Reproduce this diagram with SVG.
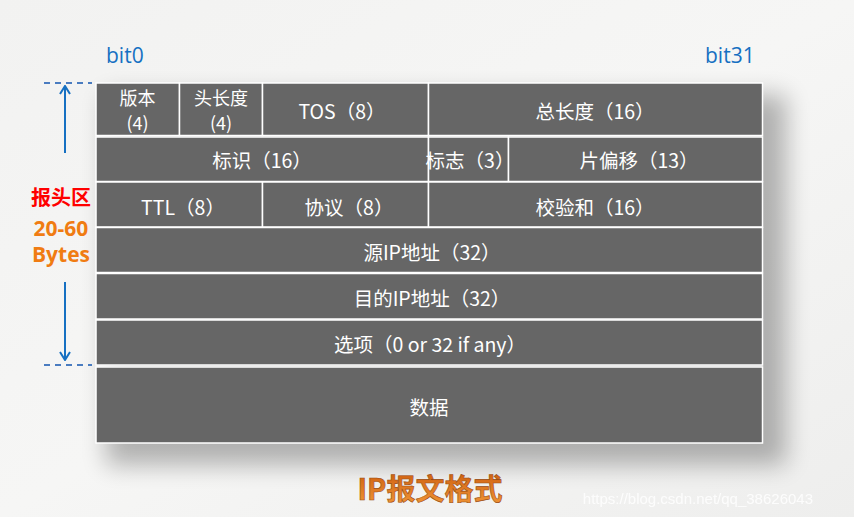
<svg xmlns="http://www.w3.org/2000/svg" width="854" height="517" viewBox="0 0 854 517">
<defs>
<style>
.cell{fill:#666666;stroke:#ffffff;stroke-width:1.5}
.t{font-family:"Noto Sans CJK SC","Microsoft YaHei",sans-serif;font-size:19.5px;fill:#ffffff;text-anchor:middle;dominant-baseline:central}
.s{font-size:18px}
.blue{font-family:"Open Sans","Noto Sans",sans-serif;font-size:21px;fill:#1670c2}
.dash{stroke:#4a7cc0;stroke-width:2;stroke-dasharray:6,5;fill:none}
.arr{stroke:#1670c2;stroke-width:2;fill:none}
.org{font-family:"Open Sans","Noto Sans",sans-serif;font-size:21px;font-weight:bold;fill:#f07c12;text-anchor:middle;dominant-baseline:central}
</style>
<linearGradient id="bg" x1="0" y1="0" x2="1" y2="1">
<stop offset="0" stop-color="#f2f2f1"/>
<stop offset="0.5" stop-color="#f6f6f5"/>
<stop offset="1" stop-color="#eeeeed"/>
</linearGradient>
<linearGradient id="title" x1="0" y1="0" x2="0" y2="1">
<stop offset="0" stop-color="#c8560a"/>
<stop offset="1" stop-color="#f39a3a"/>
</linearGradient>
<filter id="sh" x="-20%" y="-20%" width="140%" height="140%">
<feGaussianBlur stdDeviation="12"/>
</filter>
<marker id="chev" viewBox="0 0 10 12" refX="9" refY="6" markerWidth="10" markerHeight="12" markerUnits="userSpaceOnUse" orient="auto">
<path d="M1,1 L9,6 L1,11" stroke="#1670c2" stroke-width="2" fill="none"/>
</marker>
</defs>
<rect width="854" height="517" fill="url(#bg)"/>
<rect x="106" y="95" width="680" height="370" fill="#000" opacity="0.28" filter="url(#sh)"/>

<g id="labels">
<text class="blue" x="106" y="63">bit0</text>
<text class="blue" x="705" y="63">bit31</text>
<text x="61" y="205" font-family="'Noto Sans CJK SC',sans-serif" font-size="20" font-weight="bold" fill="#ff0000" text-anchor="middle">报头区</text>
<text class="org" x="61" y="228">20-60</text>
<text class="org" x="61" y="254">Bytes</text>
<text x="430" y="500" font-family="'Noto Sans CJK SC',sans-serif" font-size="29" font-weight="bold" fill="url(#title)" stroke="#9a4a10" stroke-width="0.6" text-anchor="middle">IP报文格式</text>
<text x="813" y="504" font-family="'Liberation Sans',Arial,sans-serif" font-size="15" fill="#ffffff" opacity="0.85" text-anchor="end">https://blog.csdn.net/qq_38626043</text>
</g>

<g id="connectors">
<line class="dash" x1="44" y1="83" x2="92" y2="83"/>
<line class="dash" x1="44" y1="365" x2="92" y2="365"/>
<line class="arr" x1="65" y1="153" x2="65" y2="86" marker-end="url(#chev)"/>
<line class="arr" x1="65" y1="282" x2="65" y2="360" marker-end="url(#chev)"/>
</g>

<g id="row1">
<g id="ver"><rect class="cell" x="96" y="83" width="83.5" height="52.5"/><text class="t s" x="137.5" y="97">版本</text><text class="t s" x="137.5" y="122">(4)</text></g>
<g id="ihl"><rect class="cell" x="179.5" y="83" width="83" height="52.5"/><text class="t s" x="221" y="97">头长度</text><text class="t s" x="221" y="122">(4)</text></g>
<g id="tos"><rect class="cell" x="262.5" y="83" width="166" height="52.5"/><text class="t" x="342" y="110">TOS（8）</text></g>
<g id="totlen"><rect class="cell" x="428.5" y="83" width="334" height="52.5"/><text class="t" x="595" y="110">总长度（16）</text></g>
</g>
<g id="row2">
<g id="ident"><rect class="cell" x="96" y="137" width="332.5" height="44.5"/><text class="t" x="262" y="159">标识（16）</text></g>
<g id="flags"><rect class="cell" x="428.5" y="137" width="80" height="44.5"/><text class="t" x="470" y="159" font-size="17">标志（3）</text></g>
<g id="frag"><rect class="cell" x="508.5" y="137" width="254" height="44.5"/><text class="t" x="639" y="159">片偏移（13）</text></g>
</g>
<g id="row3">
<g id="ttl"><rect class="cell" x="96" y="182" width="166.5" height="45"/><text class="t" x="183" y="206">TTL（8）</text></g>
<g id="proto"><rect class="cell" x="262.5" y="182" width="166" height="45"/><text class="t" x="349" y="206">协议（8）</text></g>
<g id="cksum"><rect class="cell" x="428.5" y="182" width="334" height="45"/><text class="t" x="595" y="206">校验和（16）</text></g>
</g>
<g id="src"><rect class="cell" x="96" y="227.5" width="666.5" height="45"/><text class="t" x="432" y="251">源IP地址（32）</text></g>
<g id="dst"><rect class="cell" x="96" y="273.5" width="666.5" height="45.5"/><text class="t" x="432" y="297">目的IP地址（32）</text></g>
<g id="opt"><rect class="cell" x="96" y="320" width="666.5" height="45"/><text class="t" x="430" y="343">选项（0 or 32 if any）</text></g>
<g id="data"><rect class="cell" x="96" y="367" width="666.5" height="76"/><text class="t" x="429" y="406">数据</text></g>
</svg>
